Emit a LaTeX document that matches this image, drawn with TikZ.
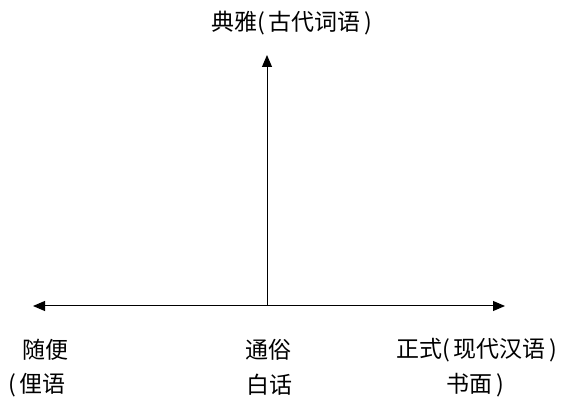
\documentclass[tikz,border=0pt]{standalone}
\usepackage{fontspec}
\setmainfont{Noto Sans CJK SC}
\usetikzlibrary{arrows.meta}
\tikzset{
  eje/.style={line width=1pt,-{Triangle[length=12pt,width=10pt]}},
  etiqueta/.style={font=\fontsize{23}{23}\selectfont,inner sep=0pt}
}
\begin{document}
\begin{tikzpicture}[x=1pt,y=1pt]
    \useasboundingbox (0,0) rectangle (565,398);
    \coordinate (o) at (267,92);
    \coordinate (arriba) at (267,343);
    \coordinate (izq) at (33,92);
    \coordinate (der) at (505,92);
    % Ejes
    \draw[eje] (o) -- (arriba);
    \draw[eje] (o) -- (izq);
    \draw[eje] (o) -- (der);
    % Etiquetas
    \node[etiqueta] (dianya) at (292,375) {典雅(\,古代词语\,)};
    \node[etiqueta] (suibian) at (45,48) {随便};
    \node[etiqueta] (liyu) at (37,13) {(\,俚语};
    \node[etiqueta] (tongsu) at (268,48) {通俗};
    \node[etiqueta] (baihua) at (269,13) {白话};
    \node[etiqueta] (zhengshi) at (477,48) {正式(\,现代汉语\,)};
    \node[etiqueta] (shumian) at (475,13) {书面\,)};
  \end{tikzpicture}
\end{document}
